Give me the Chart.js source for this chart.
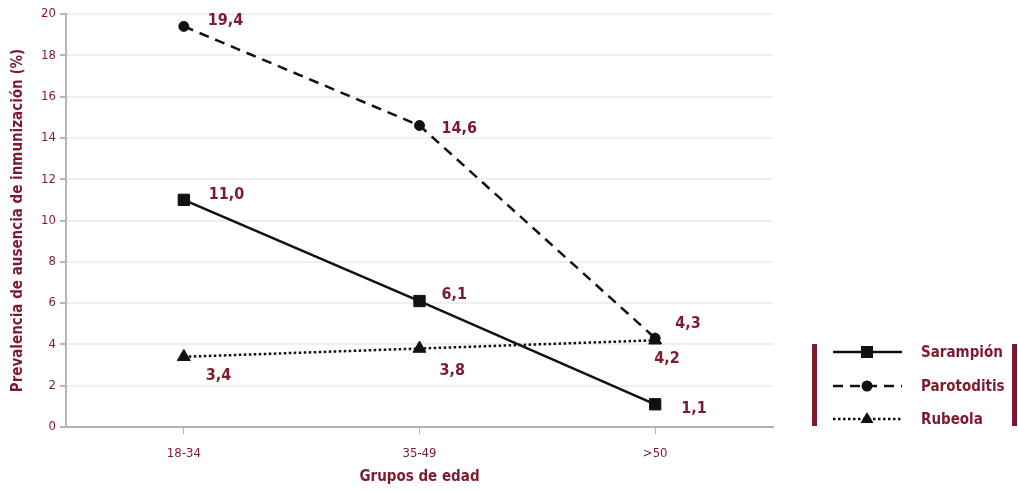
<!DOCTYPE html>
<html>
<head>
<meta charset="utf-8">
<script src="https://cdn.jsdelivr.net/npm/chart.js@4/dist/chart.umd.min.js"></script>
<style>
  html, body { margin: 0; padding: 0; background: #fff; }
  #wrap { width: 1018px; height: 490px; position: relative; }
</style>
</head>
<body>
<div id="wrap"><canvas id="c" width="1018" height="490"></canvas></div>
<script>
// Age groups and prevalence of missing immunisation (%)
const categories = ['18-34', '35-49', '>50'];
const sarampion = [11.0, 6.1, 1.1];
const parotoditis = [19.4, 14.6, 4.3];
const rubeola = [3.4, 3.8, 4.2];
const yTicks = [0, 2, 4, 6, 8, 10, 12, 14, 16, 18, 20];

const RED = '#7d1a2d';
const FONT = '"DejaVu Sans Condensed", "Liberation Sans", sans-serif';

// value label offsets per series/point
const labelPos = {
  0: [[25, -5], [22, -6], [26, 5]],
  1: [[24, -6], [22, 3], [20, -14]],
  2: [[22, 19], [20, 22], [-1, 19]]
};

const fmt = v => v.toFixed(1).replace('.', ',');

const valueLabels = {
  id: 'valueLabels',
  afterDatasetsDraw(chart) {
    const ctx = chart.ctx;
    ctx.save();
    ctx.font = 'bold 16px ' + FONT;
    ctx.fillStyle = RED;
    ctx.textBaseline = 'middle';
    ctx.textAlign = 'left';
    chart.data.datasets.forEach((ds, di) => {
      const meta = chart.getDatasetMeta(di);
      meta.data.forEach((pt, i) => {
        const [dx, dy] = labelPos[di][i];
        ctx.fillText(fmt(ds.data[i]), pt.x + dx, pt.y + dy);
      });
    });
    ctx.restore();
  }
};

const sideLegend = {
  id: 'sideLegend',
  afterDraw(chart) {
    const ctx = chart.ctx;
    ctx.save();
    // framing bars
    ctx.fillStyle = RED;
    ctx.fillRect(812, 344, 5, 82);
    ctx.fillRect(1012, 344, 5, 82);
    const rows = [352, 386, 419];
    chart.data.datasets.forEach((ds, i) => {
      const y = rows[i];
      ctx.strokeStyle = '#111';
      ctx.lineWidth = 2.5;
      ctx.setLineDash(ds.borderDash || []);
      ctx.beginPath();
      ctx.moveTo(833, y);
      ctx.lineTo(902, y);
      ctx.stroke();
      ctx.setLineDash([]);
      ctx.fillStyle = '#111';
      const mx = 867;
      if (ds.pointStyle === 'rect') {
        ctx.fillRect(mx - 6, y - 6, 12, 12);
      } else if (ds.pointStyle === 'circle') {
        ctx.beginPath(); ctx.arc(mx, y, 5.5, 0, Math.PI * 2); ctx.fill();
      } else {
        ctx.beginPath();
        ctx.moveTo(mx, y - 7); ctx.lineTo(mx + 6.5, y + 4); ctx.lineTo(mx - 6.5, y + 4);
        ctx.closePath(); ctx.fill();
      }
      ctx.font = 'bold 15px ' + FONT;
      ctx.fillStyle = RED;
      ctx.textAlign = 'left';
      ctx.textBaseline = 'middle';
      ctx.fillText(ds.label, 921, y + 1);
    });
    ctx.restore();
  }
};

new Chart(document.getElementById('c'), {
  type: 'line',
  data: {
    labels: categories,
    datasets: [
      { label: 'Sarampión', data: sarampion, borderColor: '#111', backgroundColor: '#111',
        borderWidth: 2.5, pointStyle: 'rect', pointRadius: 8, pointBorderWidth: 1, borderDash: [] },
      { label: 'Parotoditis', data: parotoditis, borderColor: '#111', backgroundColor: '#111',
        borderWidth: 2.5, pointStyle: 'circle', pointRadius: 5, pointBorderWidth: 1, borderDash: [10, 7] },
      { label: 'Rubeola', data: rubeola, borderColor: '#111', backgroundColor: '#111',
        borderWidth: 2.5, pointStyle: 'triangle', pointRadius: 7.5, pointBorderWidth: 1, borderDash: [2.5, 2.5] }
    ]
  },
  options: {
    responsive: false,
    animation: false,
    layout: { padding: { left: 0, right: 245, top: 14, bottom: 0 } },
    plugins: { legend: { display: false }, tooltip: { enabled: false } },
    elements: { line: { tension: 0 } },
    scales: {
      x: {
        offset: true,
        afterFit: s => { s.height = 63; },
        border: { color: '#b5b5b5', width: 2 },
        grid: { display: true, drawOnChartArea: false, color: '#b5b5b5', tickLength: 7, offset: false },
        ticks: { color: RED, font: { family: FONT, size: 13 }, padding: 12 },
        title: { display: true, text: 'Grupos de edad', color: RED,
                 font: { family: FONT, size: 15, weight: 'bold' }, padding: { top: 10 } }
      },
      y: {
        min: 0, max: 20,
        afterFit: s => { s.width = 66; },
        afterBuildTicks: axis => { axis.ticks = yTicks.map(v => ({ value: v })); },
        border: { color: '#b5b5b5', width: 2 },
        grid: { color: '#efefef', lineWidth: 2, tickLength: 6,
                tickColor: '#b5b5b5', drawTicks: true },
        ticks: { color: RED, font: { family: FONT, size: 13 }, padding: 4 },
        title: { display: true, text: 'Prevalencia de ausencia de inmunización (%)', color: RED,
                 font: { family: FONT, size: 15, weight: 'bold' }, padding: { top: 9, bottom: 4 } }
      }
    }
  },
  plugins: [valueLabels, sideLegend]
});
</script>
</body>
</html>
